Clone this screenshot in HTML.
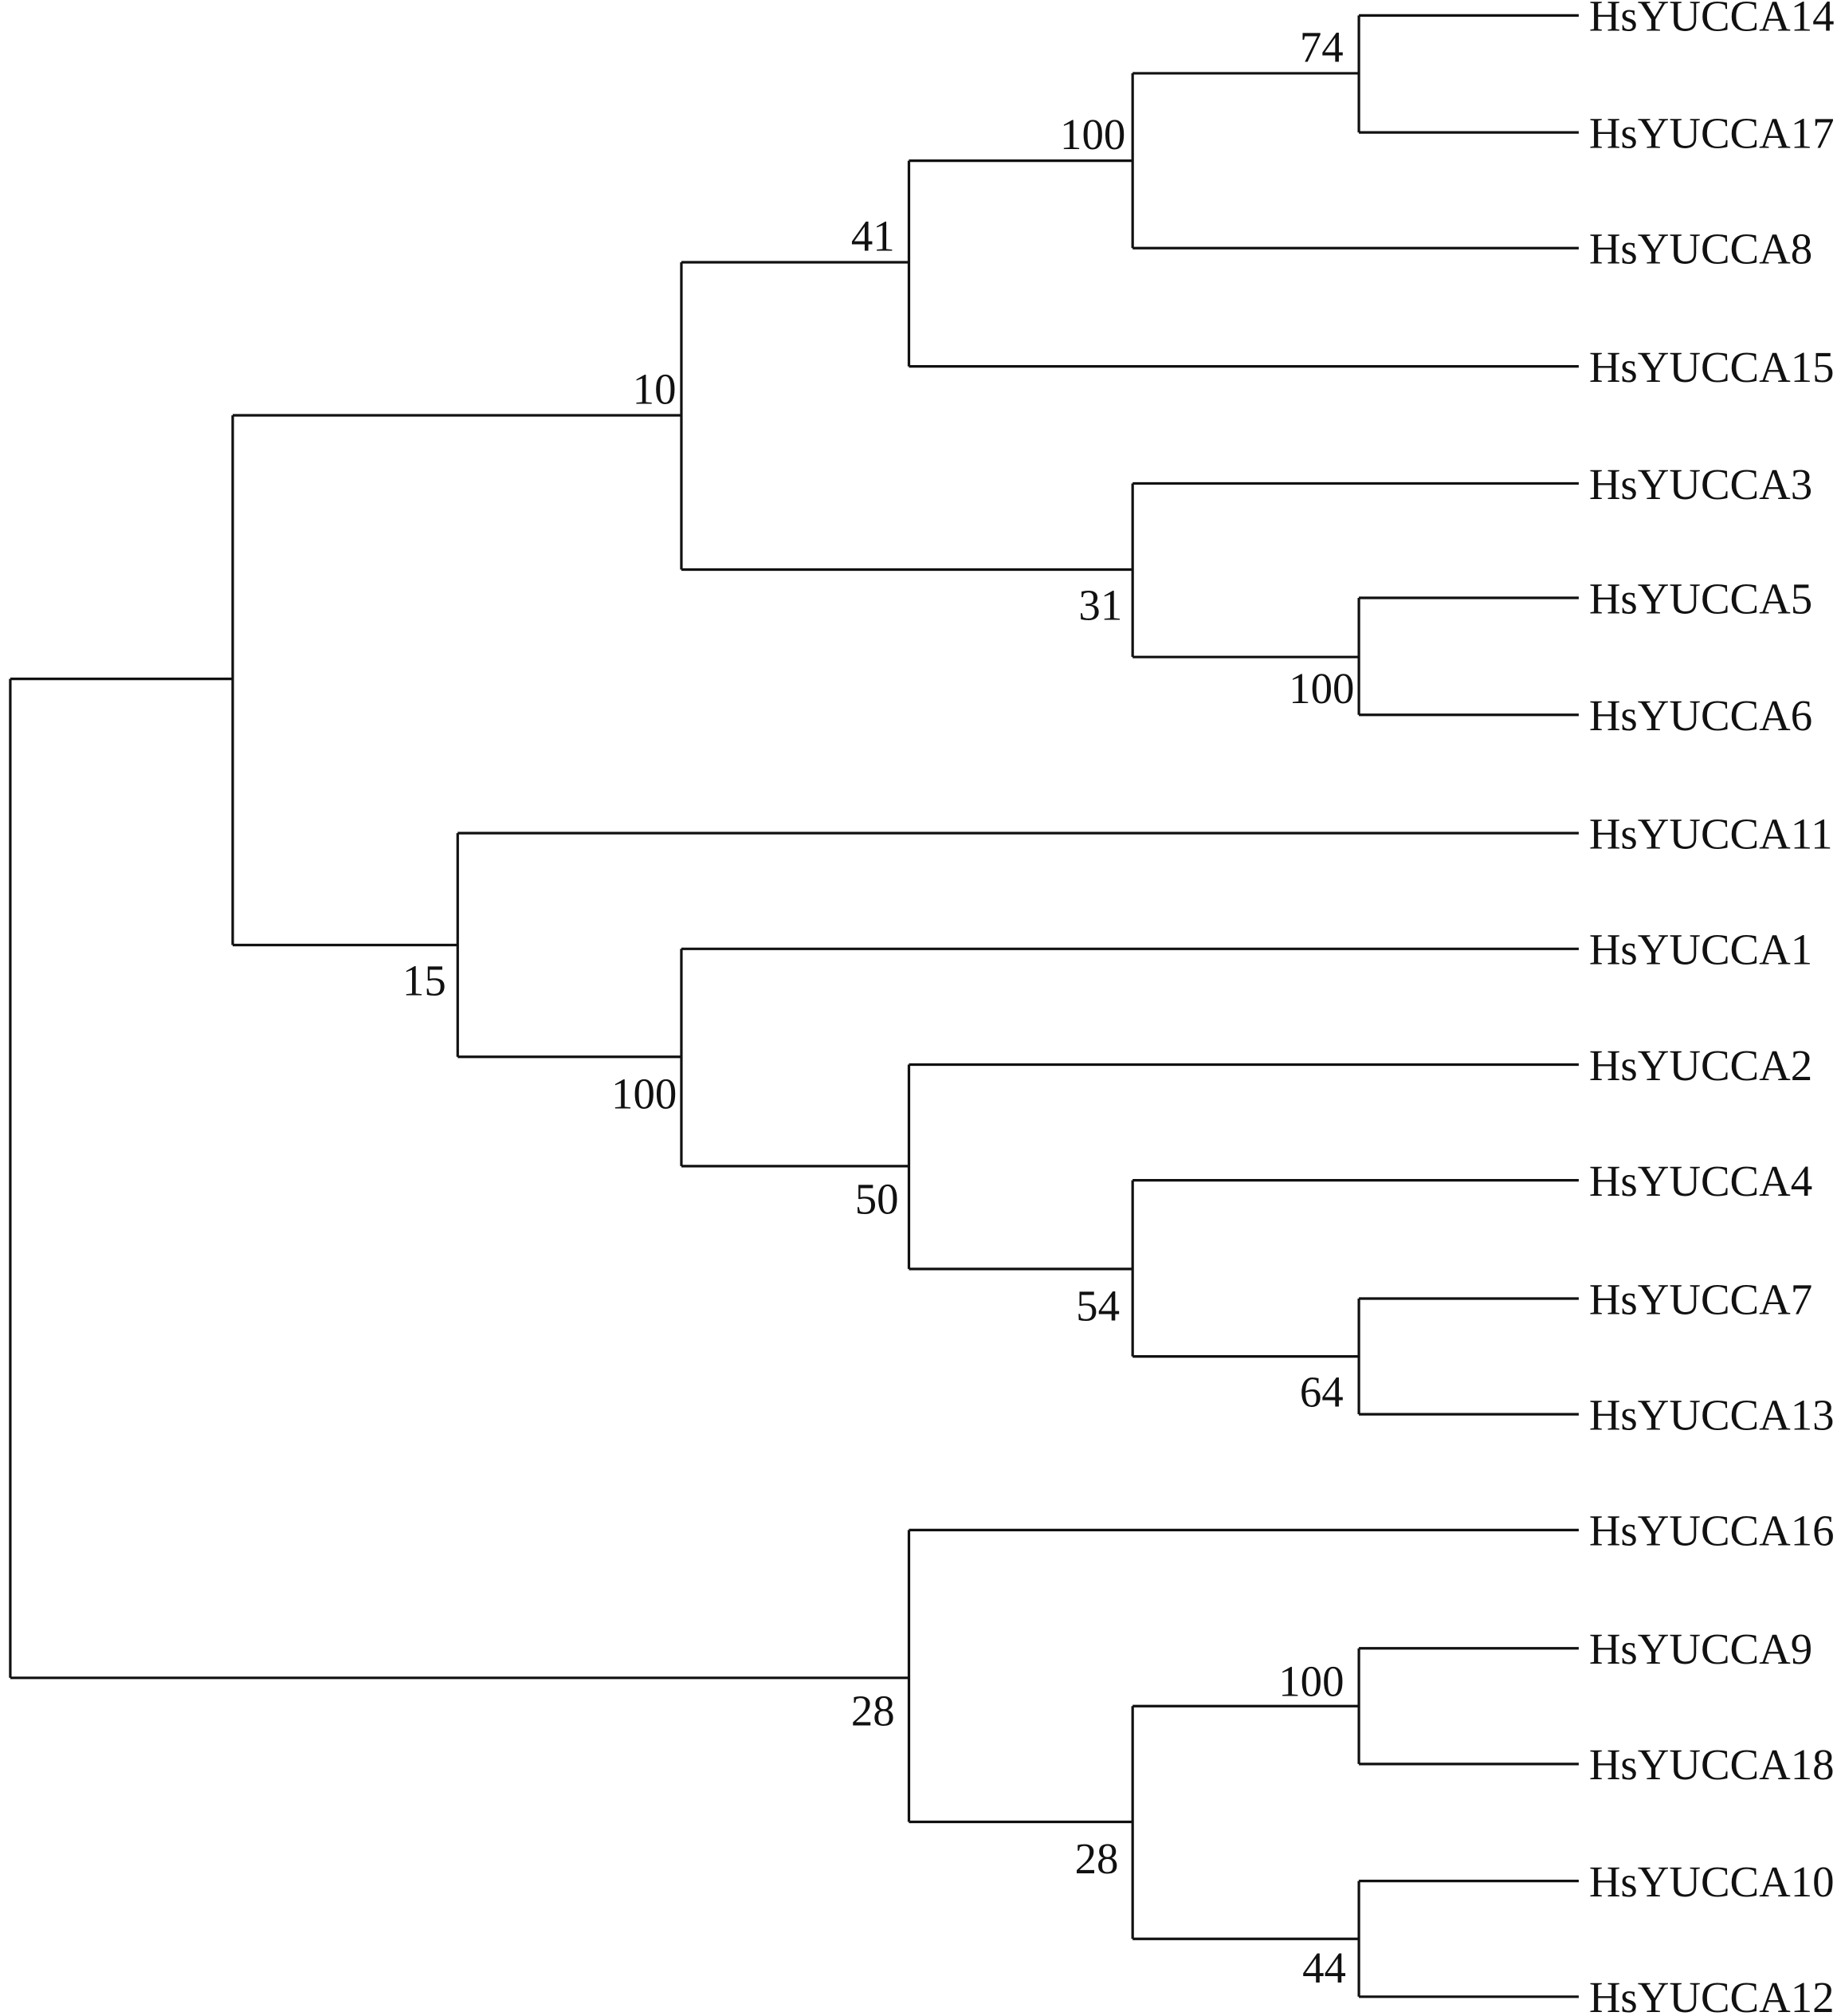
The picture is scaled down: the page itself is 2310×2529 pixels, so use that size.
<!DOCTYPE html>
<html><head><meta charset="utf-8"><style>
html,body{margin:0;padding:0;background:#fff;}
svg{display:block;}
text{font-family:"Liberation Serif",serif;font-size:34px;fill:#111;}
</style></head><body>
<svg width="2310" height="2529" viewBox="0 0 1432 1568" preserveAspectRatio="none" xmlns="http://www.w3.org/2000/svg">
<g stroke="#111" stroke-width="2" fill="none">
<!-- leaves -->
<path d="M1057 12H1228M1057 103H1228M1057 12V103"/>
<path d="M881 57H1057M881 193H1228M881 57V193"/>
<path d="M707 125H881M707 285H1228M707 125V285"/>
<path d="M1057 465H1228M1057 556H1228M1057 465V556"/>
<path d="M881 376H1228M881 511H1057M881 376V511"/>
<path d="M530 204H707M530 443H881M530 204V443"/>
<path d="M1057 1010H1228M1057 1100H1228M1057 1010V1100"/>
<path d="M881 918H1228M881 1055H1057M881 918V1055"/>
<path d="M707 828H1228M707 987H881M707 828V987"/>
<path d="M530 738H1228M530 907H707M530 738V907"/>
<path d="M356 648H1228M356 822H530M356 648V822"/>
<path d="M181 323H530M181 735H356M181 323V735"/>
<path d="M1057 1282H1228M1057 1372H1228M1057 1282V1372"/>
<path d="M1057 1463H1228M1057 1553H1228M1057 1463V1553"/>
<path d="M881 1327H1057M881 1508H1057M881 1327V1508"/>
<path d="M707 1190H1228M707 1417H881M707 1190V1417"/>
<path d="M8 528H181M8 1305H707M8 528V1305"/>
</g>
<g>
<text x="1236" y="24">HsYUCCA14</text>
<text x="1236" y="115">HsYUCCA17</text>
<text x="1236" y="205">HsYUCCA8</text>
<text x="1236" y="297">HsYUCCA15</text>
<text x="1236" y="388">HsYUCCA3</text>
<text x="1236" y="477">HsYUCCA5</text>
<text x="1236" y="568">HsYUCCA6</text>
<text x="1236" y="660">HsYUCCA11</text>
<text x="1236" y="750">HsYUCCA1</text>
<text x="1236" y="840">HsYUCCA2</text>
<text x="1236" y="930">HsYUCCA4</text>
<text x="1236" y="1022">HsYUCCA7</text>
<text x="1236" y="1112">HsYUCCA13</text>
<text x="1236" y="1202">HsYUCCA16</text>
<text x="1236" y="1294">HsYUCCA9</text>
<text x="1236" y="1384">HsYUCCA18</text>
<text x="1236" y="1475">HsYUCCA10</text>
<text x="1236" y="1565">HsYUCCA12</text>
</g>
<g text-anchor="middle">
<text x="1028" y="48">74</text>
<text x="850" y="116">100</text>
<text x="679" y="195">41</text>
<text x="509" y="314">10</text>
<text x="1028" y="547">100</text>
<text x="856" y="482">31</text>
<text x="1028" y="1094">64</text>
<text x="854" y="1027">54</text>
<text x="682" y="944">50</text>
<text x="501" y="862">100</text>
<text x="330" y="774">15</text>
<text x="1020" y="1319">100</text>
<text x="1030" y="1542">44</text>
<text x="853" y="1457">28</text>
<text x="679" y="1342">28</text>
</g>
</svg>
</body></html>
